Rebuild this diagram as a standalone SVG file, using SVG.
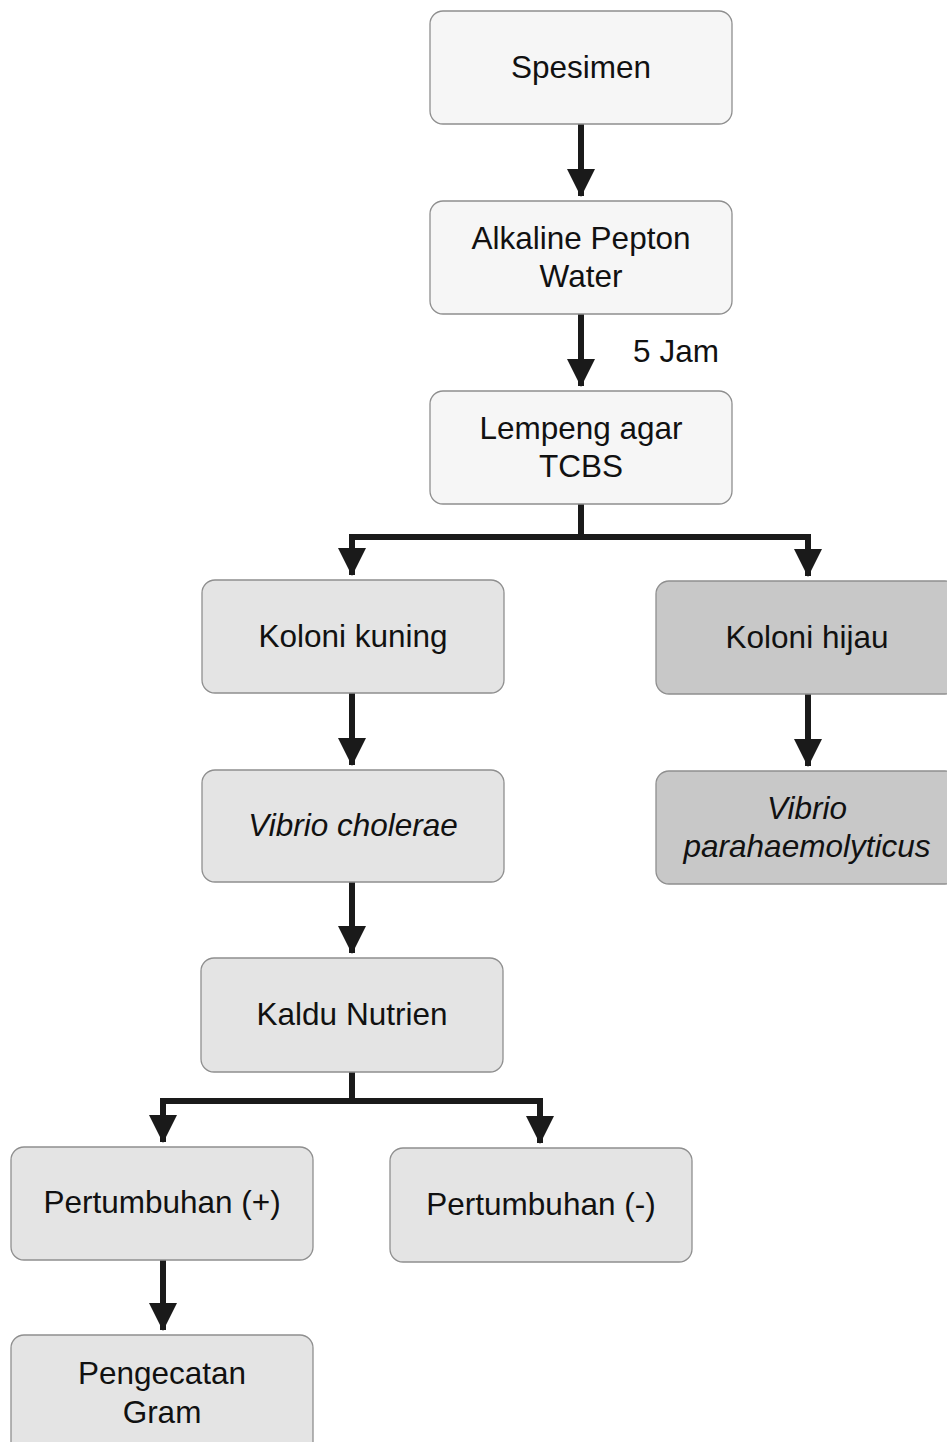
<svg xmlns="http://www.w3.org/2000/svg" width="947" height="1442" viewBox="0 0 947 1442">
  <style>
    .box { stroke: #8f8f8f; stroke-width: 1.3; }
    .light { fill: #f6f6f6; }
    .mid { fill: #e4e4e4; }
    .dark { fill: #c8c8c8; }
    .lbl { font-family: "Liberation Sans", Arial, sans-serif; font-size: 31.5px; fill: #111111; text-anchor: middle; }
    .it { font-style: italic; }
    .wire { fill: none; stroke: #1a1a1a; stroke-width: 6; stroke-linejoin: miter; }
  </style>
  <defs>
    <marker id="head" markerUnits="userSpaceOnUse" markerWidth="28" markerHeight="28" viewBox="0 0 28 28" refX="27" refY="14" orient="auto">
      <path d="M0,0 L28,14 L0,28 Z" fill="#1a1a1a"/>
    </marker>
  </defs>
  <rect width="947" height="1442" fill="#ffffff"/>

  <!-- arrows between the steps -->
  <g id="connectors">
    <path class="wire" d="M581,124 V196" marker-end="url(#head)"/>
    <path class="wire" d="M581,314 V386" marker-end="url(#head)"/>
    <path class="wire" d="M581,504 V537 H352 V575" marker-end="url(#head)"/>
    <path class="wire" d="M581,537 H808 V576" marker-end="url(#head)"/>
    <path class="wire" d="M352,693 V765" marker-end="url(#head)"/>
    <path class="wire" d="M808,694 V766" marker-end="url(#head)"/>
    <path class="wire" d="M352,882 V953" marker-end="url(#head)"/>
    <path class="wire" d="M352,1072 V1101 H163 V1142" marker-end="url(#head)"/>
    <path class="wire" d="M352,1101 H540 V1143" marker-end="url(#head)"/>
    <path class="wire" d="M163,1260 V1330" marker-end="url(#head)"/>
    <text class="lbl" x="676" y="362">5 Jam</text>
  </g>

  <g id="spesimen">
    <rect class="box light" x="430" y="11" width="302" height="113" rx="13"/>
    <text class="lbl" x="581" y="78">Spesimen</text>
  </g>
  <g id="alkaline-pepton-water">
    <rect class="box light" x="430" y="201" width="302" height="113" rx="13"/>
    <text class="lbl" x="581" y="249">Alkaline Pepton</text>
    <text class="lbl" x="581" y="287">Water</text>
  </g>
  <g id="lempeng-agar-tcbs">
    <rect class="box light" x="430" y="391" width="302" height="113" rx="13"/>
    <text class="lbl" x="581" y="439">Lempeng agar</text>
    <text class="lbl" x="581" y="477">TCBS</text>
  </g>
  <g id="koloni-kuning">
    <rect class="box mid" x="202" y="580" width="302" height="113" rx="13"/>
    <text class="lbl" x="353" y="647">Koloni kuning</text>
  </g>
  <g id="koloni-hijau">
    <rect class="box dark" x="656" y="581" width="302" height="113" rx="13"/>
    <text class="lbl" x="807" y="648">Koloni hijau</text>
  </g>
  <g id="vibrio-cholerae">
    <rect class="box mid" x="202" y="770" width="302" height="112" rx="13"/>
    <text class="lbl it" x="353" y="836">Vibrio cholerae</text>
  </g>
  <g id="vibrio-parahaemolyticus">
    <rect class="box dark" x="656" y="771" width="302" height="113" rx="13"/>
    <text class="lbl it" x="807" y="819">Vibrio</text>
    <text class="lbl it" x="807" y="857">parahaemolyticus</text>
  </g>
  <g id="kaldu-nutrien">
    <rect class="box mid" x="201" y="958" width="302" height="114" rx="13"/>
    <text class="lbl" x="352" y="1025">Kaldu Nutrien</text>
  </g>
  <g id="pertumbuhan-positif">
    <rect class="box mid" x="11" y="1147" width="302" height="113" rx="13"/>
    <text class="lbl" x="162" y="1213">Pertumbuhan (+)</text>
  </g>
  <g id="pertumbuhan-negatif">
    <rect class="box mid" x="390" y="1148" width="302" height="114" rx="13"/>
    <text class="lbl" x="541" y="1215">Pertumbuhan (-)</text>
  </g>
  <g id="pengecatan-gram">
    <rect class="box mid" x="11" y="1335" width="302" height="120" rx="13"/>
    <text class="lbl" x="162" y="1384">Pengecatan</text>
    <text class="lbl" x="162" y="1423">Gram</text>
  </g>
</svg>
